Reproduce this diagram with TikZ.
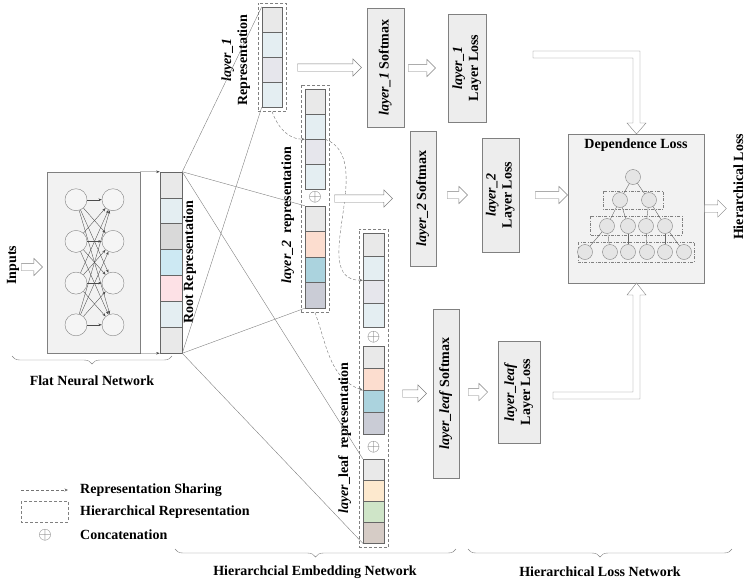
\documentclass[tikz,border=0pt]{standalone}
\usepackage{fontspec}
\setmainfont{Liberation Serif}
\usepackage{amsmath, amssymb}
\usepackage{graphicx}
\usepackage{tikz}
\usetikzlibrary{shapes.arrows, arrows.meta, decorations.pathreplacing, fit, calc}

\definecolor{cgray}{HTML}{E9E9E9}
\definecolor{cblue}{HTML}{E4EEF2}
\definecolor{cdark}{HTML}{D9D9D9}
\definecolor{csky}{HTML}{CDE9F3}
\definecolor{cpink}{HTML}{FDE1E6}
\definecolor{clav}{HTML}{E6E6EC}
\definecolor{cpeach}{HTML}{FCDDCF}
\definecolor{cteal}{HTML}{ABD3DE}
\definecolor{cslate}{HTML}{CACCD6}
\definecolor{corange}{HTML}{FDE9CE}
\definecolor{cgreen}{HTML}{CFE5C8}
\definecolor{ctaupe}{HTML}{D6CCC6}

\newcommand{\vtext}[1]{\rotatebox{90}{\begin{tabular}{@{}c@{}}#1\end{tabular}}}

\tikzset{
	lbl/.style={font=\bfseries\fontsize{14}{16}\selectfont, inner sep=0pt},
	cell/.style={draw=black!60, line width=0.5pt, inner sep=0pt},
	hrep/.style={draw=black!50, dash pattern=on 3pt off 2pt, inner sep=4pt},
	cat/.style={text=black!55, inner sep=0pt, font=\fontsize{17}{17}\selectfont},
	fan/.style={draw=black!50, line width=0.4pt},
	share/.style={draw=black!55, dash pattern=on 3pt off 2pt, -{Stealth[length=3.5pt, width=3pt]}},
	netedge/.style={draw=black!70, line width=0.35pt, -{Stealth[length=3.5pt, width=2.5pt]}},
	neuron/.style={circle, draw=black!50, fill=black!4, minimum size=22pt, inner sep=0pt},
	flatbox/.style={draw=black!50, fill=black!5, inner sep=0pt},
	lossbox/.style={lbl, draw=black!50, fill=black!7},
	blockarrow/.style={single arrow, draw=black!50, fill=white, inner xsep=0pt, inner ysep=3.5pt, single arrow head extend=5pt, single arrow head indent=0pt},
	hollow/.style={draw=black!50, fill=white},
	treenode/.style={circle, draw=black!50, fill=black!10, minimum size=15pt, inner sep=0pt},
	treeedge/.style={draw=black!60, line width=0.4pt},
	level/.style={draw=black!50, dash pattern=on 3pt off 1.5pt on 0.6pt off 1.5pt},
	brace/.style={draw=black!50, decorate, decoration={brace, mirror, amplitude=8pt}}
}

\begin{document}
\begin{tikzpicture}[x=1pt, y=-1pt]
	\useasboundingbox (0,0) rectangle (749,587);

	\node[flatbox, minimum width=93, minimum height=181] (flat) at (93.5,262.5) {};
	\foreach \i in {1,...,4}{
		\node[neuron] (in\i) at (76,158+41.7*\i) {};
		\node[neuron] (out\i) at (113,158+41.7*\i) {};
	}
	\foreach \i in {1,...,4}
		\foreach \j in {1,...,4}
			\draw[netedge] (in\i) -- (out\j);
	\node[lbl] (inputs) at (13,265) {\vtext{Inputs}};
	\node[blockarrow, minimum height=21, anchor=tip] (ainput) at ([xshift=-4pt, yshift=-4.5pt]flat.west) {};

	\foreach \c [count=\i] in {cgray,cblue,cdark,csky,cpink,cblue,cgray}
		\node[cell, fill=\c, minimum width=22, minimum height=25.86] (root\i) at (171,172+25.86*\i-12.93) {};
	\draw[netedge] (flat.north east) -- (root1.north west);
	\draw[netedge] (flat.south east) -- (root7.south west);
	\node[lbl] (rootlbl) at (190,262) {\vtext{Root Representation}};

	\foreach \c [count=\i] in {cgray,cblue,clav,cblue}{
		\node[cell, fill=\c, minimum width=20, minimum height=25] (lone\i) at (272,7+25*\i-12.5) {};
		\node[cell, fill=\c, minimum width=20, minimum height=25] (ltwoa\i) at (315,89+25*\i-12.5) {};
		\node[cell, fill=\c, minimum width=21, minimum height=23.5] (lleafa\i) at (373.5,233+23.5*\i-11.75) {};
	}
	\foreach \c [count=\i] in {cgray,cpeach,cteal,cslate}{
		\node[cell, fill=\c, minimum width=20, minimum height=25.5] (ltwob\i) at (315,206+25.5*\i-12.75) {};
		\node[cell, fill=\c, minimum width=21, minimum height=22] (lleafb\i) at (373.5,346+22*\i-11) {};
	}
	\foreach \c [count=\i] in {cgray,corange,cgreen,ctaupe}
		\node[cell, fill=\c, minimum width=21, minimum height=21] (lleafc\i) at (373.5,459+21*\i-10.5) {};

	\node[hrep, fit=(lone1)(lone4)] (hone) {};
	\node[hrep, fit=(ltwoa1)(ltwob4)] (htwo) {};
	\node[hrep, fit=(lleafa1)(lleafc4)] (hleaf) {};
	\node[cat] (cattwo) at (315,197) {$\oplus$};
	\node[cat] (catleafa) at (373.5,337) {$\oplus$};
	\node[cat] (catleafb) at (373.5,447) {$\oplus$};

	\node[lbl] (lonelbl) at (236,60) {\vtext{\textit{layer\_1}\\Representation}};
	\node[lbl] (ltwolbl) at (288,215) {\vtext{\textit{layer\_2}~~representation}};
	\node[lbl] (lleaflbl) at (345,438) {\vtext{\textit{layer}\_leaf~~representation}};

	\draw[fan] (root1.north east) -- (lone1.north west);
	\draw[fan] (root1.north east) -- (ltwob1.north west);
	\draw[fan] (root1.north east) -- (lleafc1.north west);
	\draw[fan] (root7.south east) -- (lone4.south west);
	\draw[fan] (root7.south east) -- (ltwob4.south west);
	\draw[fan] (root7.south east) -- (lleafc4.south west);

	\draw[share] (hone.south) to[out=-70, in=180] (ltwoa2.south west);
	\draw[share] (ltwoa2.south east) to[out=-20, in=180] (lleafa2.south west);
	\draw[share] (htwo.south) to[out=-70, in=160] (lleafb2.south west);

	\node[lossbox, minimum width=37, minimum height=119] (smone) at (385.5,67.5) {\vtext{\textit{layer\_1} Softmax}};
	\node[lossbox, minimum width=26, minimum height=135] (smtwo) at (423,198.5) {\vtext{\textit{layer\_2} Softmax}};
	\node[lossbox, minimum width=26, minimum height=169] (smleaf) at (446,393.5) {\vtext{\textit{layer\_leaf} Softmax}};
	\node[lossbox, minimum width=38, minimum height=108] (lossone) at (467,68) {\vtext{\textit{layer\_1}\\Layer Loss}};
	\node[lossbox, minimum width=37, minimum height=114] (losstwo) at (500.5,195) {\vtext{\textit{layer\_2}\\Layer Loss}};
	\node[lossbox, minimum width=42, minimum height=102] (lossleaf) at (519,392) {\vtext{\textit{layer\_leaf}\\Layer Loss}};

	\node[blockarrow, minimum height=64, anchor=tip] (aone) at ([xshift=-5pt]smone.west) {};
	\node[blockarrow, minimum height=58, anchor=tip] (atwo) at ([xshift=-17pt]smtwo.west) {};
	\node[blockarrow, minimum height=24, anchor=tip] (aleaf) at ([xshift=-6pt]smleaf.west) {};
	\node[blockarrow, minimum height=27, anchor=tip] (bone) at ([xshift=-12pt]lossone.west) {};
	\node[blockarrow, minimum height=20, anchor=tip] (btwo) at ([xshift=-14pt]losstwo.west) {};
	\node[blockarrow, minimum height=19, anchor=tip] (bleaf) at ([xshift=-10pt]lossleaf.west) {};

	\node[lossbox, fill=black!5, minimum width=136, minimum height=149] (dep) at (636,208.5) {};
	\node[lbl] (deptitle) at (636,145) {Dependence Loss};
	\draw[level] (603,191) rectangle (663,209);
	\draw[level] (590,216) rectangle (682,235);
	\draw[level] (578,242) rectangle (694,262);
	\node[treenode] (t0) at (633,177) {};
	\node[treenode] (t1a) at (620,200) {};
	\node[treenode] (t1b) at (649,200) {};
	\foreach \n/\x in {a/607,b/628,c/646,d/665}
		\node[treenode] (t2\n) at (\x,226) {};
	\foreach \n/\x in {a/585,b/610,c/628,d/647,e/665,f/684}
		\node[treenode] (t3\n) at (\x,252) {};
	\foreach \a/\b in {t0/t1a,t0/t1b,t1a/t2a,t1a/t2b,t1b/t2c,t1b/t2d,t2a/t3a,t2a/t3b,t2b/t3c,t2c/t3d,t2d/t3e,t2d/t3f}
		\draw[treeedge] (\a) -- (\b);

	\node[blockarrow, minimum height=32, anchor=tip] (cdep) at (dep.west |- losstwo) {};
	\draw[hollow] (533,51) -- (640,51) -- (640,123) -- (646,123) -- (636.5,134) -- (627,123) -- (633,123) -- (633,58) -- (533,58) -- cycle;
	\draw[hollow] (553,392) -- (633,392) -- (633,295) -- (627,295) -- (636.5,283) -- (646,295) -- (640,295) -- (640,399) -- (553,399) -- cycle;
	\node[blockarrow, minimum height=22, anchor=tail] (aout) at (dep.east) {};
	\node[lbl] (hloss) at (740,187) {\vtext{Hierarchical Loss}};

	\coordinate (lgs) at (21,490);
	\coordinate (lge) at (68,490);
	\draw[share] (lgs) -- (lge);
	\node[lbl, anchor=west] (lgone) at (80,490) {Representation Sharing};
	\draw[hrep] (21,501) rectangle (68,522);
	\node[lbl, anchor=west] (lgtwo) at (80,512) {Hierarchical Representation};
	\node[cat] (lgcat) at (45,535) {$\oplus$};
	\node[lbl, anchor=west] (lgthree) at (80,535) {Concatenation};

	\draw[brace] (12,356) -- (172,356);
	\node[lbl] (flatlbl) at (92,381) {Flat Neural Network};
	\draw[brace] (175,549) -- (456,549);
	\node[lbl] (emblbl) at (315,572) {Hierarchcial Embedding Network};
	\draw[brace] (468,549) -- (732,549);
	\node[lbl] (losslbl) at (600,572) {Hierarchical Loss Network};
\end{tikzpicture}
\end{document}
